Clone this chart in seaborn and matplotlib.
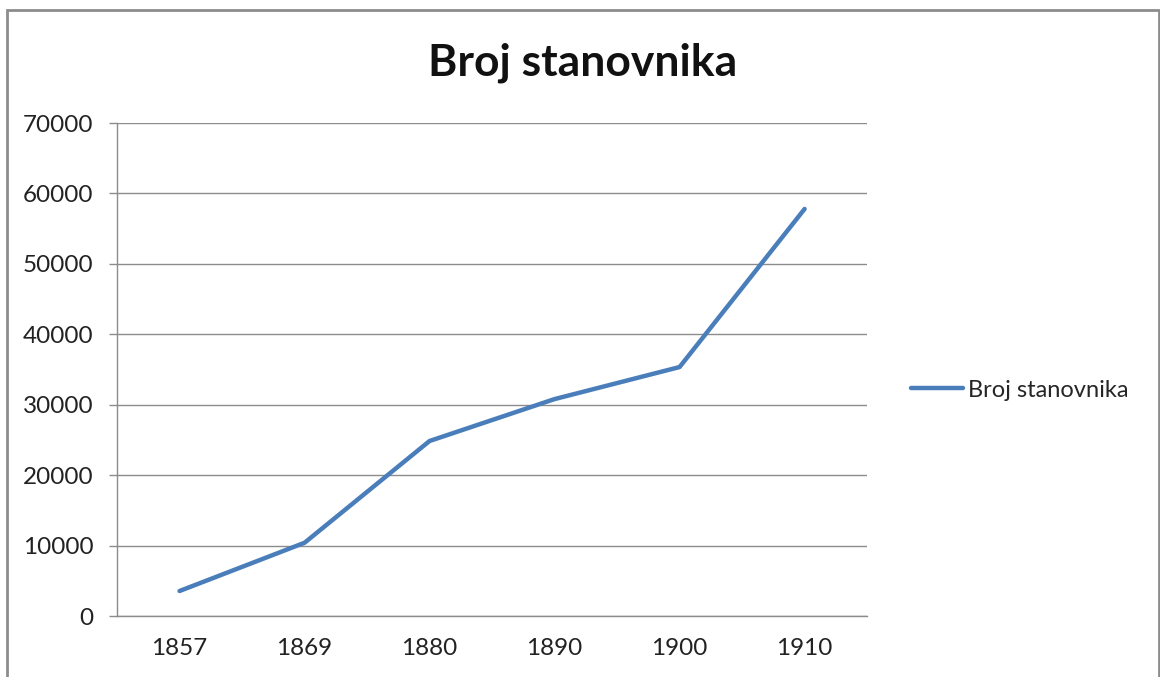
import matplotlib.pyplot as plt
import matplotlib.patches as patches
import seaborn as sns
import pandas as pd

years = ['1857', '1869', '1880', '1890', '1900', '1910']
population = [3550, 10400, 24850, 30800, 35350, 57800]
series_name = 'Broj stanovnika'

sns.set_style('white')
plt.rcParams['font.family'] = ['Lato', 'DejaVu Sans']

df = pd.DataFrame({'Godina': years, series_name: population})

fig = plt.figure(figsize=(11.6, 6.77), dpi=100)
ax = fig.add_axes([0.1009, 0.0901, 0.6466, 0.7282])

sns.lineplot(data=df, x='Godina', y=series_name, ax=ax, color='#4A7EBB',
             linewidth=3.2, label=series_name, sort=False)

ax.set_xlim(-0.5, len(years) - 0.5)
ax.set_ylim(0, 70000)
ax.set_yticks(range(0, 70001, 10000))
ax.set_xlabel('')
ax.set_ylabel('')

grid_col = '#8c8c8c'
ax.yaxis.grid(True, color=grid_col, linewidth=1)
ax.set_axisbelow(True)
for s in ['top', 'right']:
    ax.spines[s].set_visible(False)
for s in ['left', 'bottom']:
    ax.spines[s].set_color(grid_col)
    ax.spines[s].set_linewidth(1)

# tick marks between categories, like the original
ax.set_xticks([i - 0.5 for i in range(len(years) + 1)], minor=True)
ax.tick_params(axis='x', which='major', length=0, pad=16, labelsize=17.5, labelcolor='#222222')
ax.tick_params(axis='x', which='minor', length=8, color=grid_col, width=1, direction='out')
ax.tick_params(axis='y', length=6, color=grid_col, width=1, direction='out', pad=11,
               labelsize=17.5, labelcolor='#222222', left=True)

fig.text(0.5026, 1 - 63 / 677, series_name, fontsize=32, fontweight='bold',
         ha='center', va='center', color='#111111')

leg = ax.legend(loc='center left', bbox_to_anchor=(1.03, 0.458), frameon=False,
                fontsize=17, handlelength=2.2, handletextpad=0.2)

# outer chart frame
fig.patches.append(patches.Rectangle((7 / 1160, -0.05), 1152 / 1160, 1.05 - 10 / 677,
                                     transform=fig.transFigure, fill=False,
                                     edgecolor='#8c8c8c', linewidth=2))

fig.savefig('out.png', dpi=100)
